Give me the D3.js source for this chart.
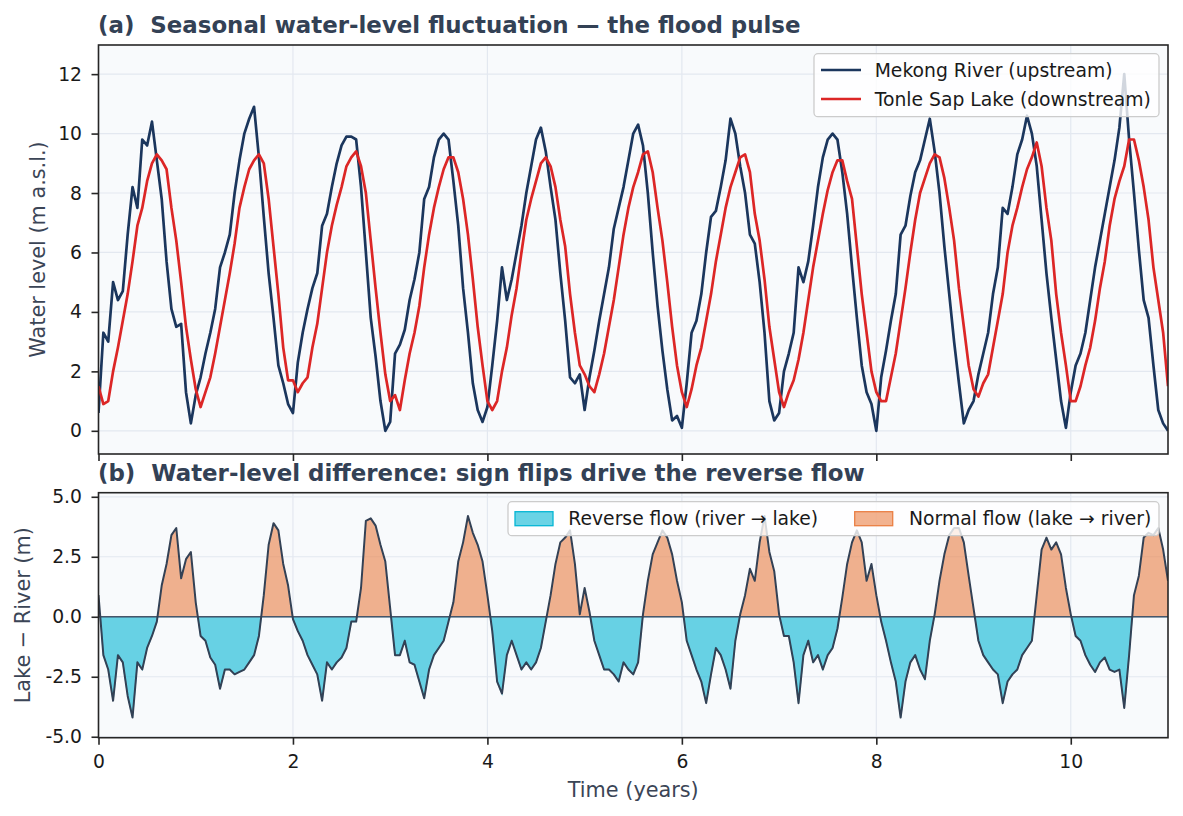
<!DOCTYPE html>
<html>
<head>
<meta charset="utf-8">
<script src="https://cdn.jsdelivr.net/npm/d3@7"></script>
<style>
  body { margin: 0; background: #ffffff; }
  svg { display: block; font-family: "DejaVu Sans", sans-serif; }
</style>
</head>
<body>
<svg id="chart" width="1183" height="816"></svg>
<script>
// sampled every 0.05 years, t = 0 .. 11 (one row per year)
const mekongRiver = [
  0.6, 3.3, 3.0, 5.0, 4.4, 4.7, 6.6, 8.2, 7.5, 9.8, 9.6, 10.4, 9.1, 7.8, 5.7, 4.1, 3.5, 3.6, 1.3, 0.25,
  1.2, 1.8, 2.6, 3.3, 4.1, 5.5, 6.0, 6.6, 8.0, 9.1, 10.0, 10.5, 10.9, 9.2, 7.2, 5.3, 3.8, 2.2, 1.6, 0.9,
  0.6, 2.3, 3.3, 4.1, 4.8, 5.3, 6.9, 7.3, 8.2, 9.0, 9.6, 9.9, 9.9, 9.8, 8.2, 6.0, 3.8, 2.5, 1.0, 0.0,
  0.3, 2.6, 2.9, 3.4, 4.4, 5.1, 6.0, 7.8, 8.2, 9.2, 9.8, 10.0, 9.8, 8.4, 6.9, 4.8, 3.3, 1.6, 0.7, 0.3,
  0.8, 2.2, 3.7, 5.5, 4.4, 5.1, 6.0, 6.9, 8.0, 8.9, 9.8, 10.2, 9.4, 8.2, 7.1, 5.3, 3.7, 1.8, 1.6, 1.9,
  0.7, 1.8, 2.7, 3.7, 4.6, 5.5, 6.8, 7.5, 8.2, 9.1, 10.0, 10.3, 9.6, 8.0, 6.0, 4.2, 2.7, 1.4, 0.35, 0.5,
  0.1, 1.6, 3.3, 3.7, 4.6, 6.0, 7.2, 7.4, 8.2, 9.1, 10.5, 10.0, 8.9, 8.0, 6.6, 6.3, 5.0, 3.3, 1.0, 0.35,
  0.6, 2.0, 2.6, 3.3, 5.5, 5.0, 5.7, 6.9, 8.2, 9.2, 9.8, 10.0, 9.8, 8.7, 7.3, 5.5, 3.8, 2.2, 1.3, 0.9,
  0.0, 1.8, 2.7, 3.7, 4.6, 6.6, 6.9, 7.9, 8.7, 9.1, 9.8, 10.5, 9.4, 8.0, 6.2, 4.6, 3.0, 1.6, 0.25, 0.7,
  1.0, 1.9, 2.6, 3.3, 4.6, 5.5, 7.5, 7.3, 8.2, 9.3, 9.8, 10.6, 10.0, 8.9, 7.1, 5.3, 3.8, 2.4, 1.0, 0.1,
  1.3, 2.2, 2.6, 3.3, 4.4, 5.5, 6.4, 7.3, 8.2, 9.1, 10.2, 12.0, 9.8, 8.0, 6.1, 4.4, 3.8, 2.2, 0.7, 0.25,
  0.0
];

const tonleSapLake = [
  1.5, 0.9, 1.0, 2.0, 2.8, 3.7, 4.6, 5.7, 6.9, 7.5, 8.4, 9.0, 9.3, 9.1, 8.8, 7.5, 6.4, 5.0, 3.5, 2.4,
  1.4, 0.8, 1.3, 1.8, 2.6, 3.5, 4.4, 5.3, 6.3, 7.5, 8.2, 8.8, 9.1, 9.3, 9.0, 7.8, 6.2, 4.6, 2.8, 1.7,
  1.7, 1.3, 1.6, 1.8, 2.8, 3.6, 4.8, 6.0, 6.9, 7.6, 8.2, 8.9, 9.2, 9.4, 8.9, 8.0, 6.4, 4.8, 3.3, 1.9,
  1.0, 1.2, 0.7, 1.7, 2.6, 3.3, 4.2, 5.5, 6.6, 7.5, 8.2, 8.8, 9.2, 9.2, 8.7, 7.8, 6.6, 5.1, 3.5, 2.2,
  1.0, 0.7, 1.0, 2.0, 2.8, 3.9, 4.8, 6.0, 7.1, 7.8, 8.4, 9.0, 9.2, 8.9, 8.2, 7.1, 6.2, 4.6, 3.3, 2.2,
  1.9, 1.5, 1.3, 1.9, 2.6, 3.5, 4.4, 5.5, 6.6, 7.5, 8.2, 8.7, 9.3, 9.4, 8.7, 7.5, 6.4, 5.0, 3.5, 2.2,
  1.3, 0.8, 1.4, 2.2, 2.8, 3.7, 4.6, 5.7, 6.6, 7.5, 8.2, 8.7, 9.2, 9.3, 8.7, 7.3, 6.4, 5.1, 3.5, 2.4,
  1.3, 0.8, 1.3, 1.7, 2.4, 3.3, 4.4, 5.5, 6.4, 7.3, 8.1, 8.7, 9.1, 9.1, 8.4, 7.8, 6.2, 4.6, 3.3, 2.0,
  1.3, 1.0, 1.0, 1.8, 2.6, 3.7, 4.8, 6.0, 7.1, 8.0, 8.5, 9.0, 9.3, 9.2, 8.5, 7.5, 6.4, 4.8, 3.5, 2.2,
  1.4, 1.15, 1.6, 1.9, 2.8, 3.7, 4.6, 6.0, 6.9, 7.5, 8.2, 8.8, 9.2, 9.7, 8.9, 7.5, 6.4, 4.6, 3.3, 2.2,
  1.0, 1.0, 1.5, 2.2, 2.8, 3.7, 4.8, 5.7, 6.9, 7.8, 8.4, 8.9, 9.8, 9.8, 9.1, 8.2, 7.1, 5.5, 4.4, 3.3,
  1.5
];

// lake minus river
const levelDiff = [
  0.9, -1.6, -2.2, -3.5, -1.6, -1.9, -3.3, -4.2, -1.9, -2.2, -1.3, -0.8, -0.2, 1.3, 2.2, 3.4, 3.7, 1.6, 2.4, 2.7,
  0.6, -0.8, -1.0, -1.7, -2.0, -3.0, -2.2, -2.2, -2.4, -2.3, -2.2, -1.9, -1.6, -0.8, 0.9, 3.0, 3.9, 3.6, 2.2, 1.3,
  -0.1, -0.6, -1.0, -1.6, -2.0, -2.4, -3.5, -1.9, -2.2, -1.9, -1.7, -1.3, -0.2, -0.2, 1.2, 4.0, 4.1, 3.8, 3.0, 2.3,
  0.35, -1.6, -1.6, -1.0, -1.9, -2.0, -2.7, -3.4, -2.2, -1.6, -1.3, -1.0, -0.2, 0.6, 2.3, 3.1, 4.2, 3.5, 3.0, 2.3,
  0.9, -0.6, -2.7, -3.2, -1.6, -1.0, -1.6, -2.2, -1.9, -2.2, -1.9, -1.3, -0.2, 0.9, 2.2, 3.1, 3.3, 3.6, 2.2, 0.1,
  1.2, 0.2, -1.0, -1.6, -2.2, -2.2, -2.4, -2.7, -1.9, -2.2, -2.4, -1.9, 0.1, 1.5, 2.6, 3.1, 3.6, 3.3, 2.6, 1.5,
  0.6, -1.0, -1.6, -2.2, -2.7, -3.6, -2.4, -1.3, -1.6, -2.2, -3.0, -1.0, 0.1, 0.9, 2.0, 1.5, 3.1, 4.2, 2.7, 1.9,
  0.1, -0.8, -0.8, -1.9, -3.6, -1.6, -1.0, -1.9, -1.6, -2.2, -1.6, -1.3, -0.5, 0.8, 2.2, 3.1, 3.6, 3.1, 1.5, 2.2,
  0.9, -0.2, -1.0, -1.9, -2.7, -4.2, -2.7, -1.9, -1.6, -2.2, -2.6, -1.0, 0.1, 1.5, 2.6, 3.4, 3.7, 3.7, 3.1, 1.7,
  0.35, -1.0, -1.6, -1.9, -2.2, -2.4, -3.6, -2.7, -2.4, -2.2, -1.6, -1.3, -1.0, 0.9, 2.8, 3.3, 2.8, 3.1, 2.6, 1.2,
  0.1, -0.8, -1.0, -1.6, -2.0, -2.3, -1.9, -1.7, -2.2, -2.3, -2.2, -3.8, -1.6, 0.9, 1.7, 3.3, 3.5, 3.4, 3.7, 2.8,
  1.5
];

const years = d3.range(mekongRiver.length).map(i => i * 0.05);

const xTicks = [0, 2, 4, 6, 8, 10];
const levelTicks = [0, 2, 4, 6, 8, 10, 12];
const diffTicks = [-5, -2.5, 0, 2.5, 5];

const levelSeries = [
  { name: 'Mekong River (upstream)', color: '#1b365d', values: mekongRiver },
  { name: 'Tonle Sap Lake (downstream)', color: '#dc2626', values: tonleSapLake }
];
const flowLabels = ['Reverse flow (river \u2192 lake)', 'Normal flow (lake \u2192 river)'];
const reverseColor = '#06b6d4';
const normalColor = '#ea7f44';

const svg = d3.select('#chart');
const left = 98.5, right = 1168;
const topA = 45, botA = 454;
const topB = 492.7, botB = 737.7;

const x = d3.scaleLinear().domain([0, 11]).range([left, right]);
const yA = d3.scaleLinear().domain([-0.78, 12.98]).range([botA, topA]);
const yB = d3.scaleLinear().domain([-5.04, 5.17]).range([botB, topB]);

const tickFont = '18.75px';
const labelColor = '#3b4556';
const spineColor = '#262626';

function panel(id, y0, y1, yScale, yTicks) {
  const g = svg.append('g');
  g.append('rect')
      .attr('x', left).attr('y', y0)
      .attr('width', right - left).attr('height', y1 - y0)
      .attr('fill', '#f8fafc');

  svg.append('clipPath').attr('id', id)
    .append('rect')
      .attr('x', left).attr('y', y0)
      .attr('width', right - left).attr('height', y1 - y0);

  const grid = g.append('g')
      .attr('stroke', '#e3e8f0')
      .attr('stroke-width', 1.2);
  grid.selectAll('.gx').data(xTicks).join('line')
      .attr('x1', d => x(d)).attr('x2', d => x(d))
      .attr('y1', y0).attr('y2', y1);
  grid.selectAll('.gy').data(yTicks).join('line')
      .attr('x1', left).attr('x2', right)
      .attr('y1', d => yScale(d)).attr('y2', d => yScale(d));
  return g;
}

function axes(y0, y1, yScale, yTicks, fmt, showXLabels) {
  const ax = svg.append('g')
      .attr('transform', `translate(0,${y1})`)
      .call(d3.axisBottom(x).tickValues(xTicks).tickSize(7).tickPadding(10)
        .tickFormat(showXLabels ? d3.format('d') : () => ''));
  const ay = svg.append('g')
      .attr('transform', `translate(${left},0)`)
      .call(d3.axisLeft(yScale).tickValues(yTicks).tickSize(7).tickPadding(9.5)
        .tickFormat(fmt));
  [ax, ay].forEach(a => {
    a.select('.domain').remove();
    a.selectAll('.tick line').attr('stroke', spineColor).attr('stroke-width', 1.6);
    a.selectAll('.tick text')
        .attr('fill', '#1a1a1a')
        .style('font-size', tickFont)
        .style('font-family', '"DejaVu Sans", sans-serif');
  });
  svg.append('rect')
      .attr('x', left).attr('y', y0)
      .attr('width', right - left).attr('height', y1 - y0)
      .attr('fill', 'none')
      .attr('stroke', spineColor)
      .attr('stroke-width', 1.6);
}

// ---- panel (a): water levels
const gA = panel('clipA', topA, botA, yA, levelTicks);
const line = d3.line()
    .x((d, i) => x(years[i]))
    .y(d => yA(d));
gA.append('g').attr('clip-path', 'url(#clipA)')
  .selectAll('path').data(levelSeries).join('path')
    .attr('fill', 'none')
    .attr('stroke', d => d.color)
    .attr('stroke-width', 2.7)
    .attr('stroke-linejoin', 'round')
    .attr('d', d => line(d.values));
axes(topA, botA, yA, levelTicks, d3.format('d'), false);

// ---- panel (b): difference
const gB = panel('clipB', topB, botB, yB, diffTicks);
const y0B = yB(0);
svg.append('clipPath').attr('id', 'clipPos')
  .append('rect').attr('x', left).attr('y', topB)
    .attr('width', right - left).attr('height', y0B - topB);
svg.append('clipPath').attr('id', 'clipNeg')
  .append('rect').attr('x', left).attr('y', y0B)
    .attr('width', right - left).attr('height', botB - y0B);

const area = d3.area()
    .x((d, i) => x(years[i]))
    .y0(y0B)
    .y1(d => yB(d));
gB.append('path')
    .attr('clip-path', 'url(#clipNeg)')
    .attr('fill', reverseColor).attr('fill-opacity', 0.6)
    .attr('stroke', reverseColor).attr('stroke-opacity', 0.6).attr('stroke-width', 1.2)
    .attr('d', area(levelDiff));
gB.append('path')
    .attr('clip-path', 'url(#clipPos)')
    .attr('fill', normalColor).attr('fill-opacity', 0.6)
    .attr('d', area(levelDiff));
gB.append('line')
    .attr('x1', left).attr('x2', right)
    .attr('y1', y0B).attr('y2', y0B)
    .attr('stroke', '#475569').attr('stroke-width', 1.3);
gB.append('path')
    .attr('clip-path', 'url(#clipB)')
    .attr('fill', 'none')
    .attr('stroke', '#334155')
    .attr('stroke-width', 2.0)
    .attr('stroke-linejoin', 'round')
    .attr('d', d3.line().x((d, i) => x(years[i])).y(d => yB(d))(levelDiff));
axes(topB, botB, yB, diffTicks, d => d3.format('.1f')(d).replace('\u2212', '-'), true);

// ---- titles and labels
svg.append('text')
    .attr('x', 98).attr('y', 33)
    .style('white-space', 'pre')
    .attr('font-size', '22.9px').attr('font-weight', 'bold').attr('fill', '#334155')
    .text('(a)  Seasonal water-level fluctuation \u2014 the flood pulse');
svg.append('text')
    .attr('x', 98).attr('y', 481)
    .style('white-space', 'pre')
    .attr('font-size', '22.9px').attr('font-weight', 'bold').attr('fill', '#334155')
    .text('(b)  Water-level difference: sign flips drive the reverse flow');

svg.append('text')
    .attr('transform', `translate(38,${(topA + botA) / 2}) rotate(-90)`)
    .attr('text-anchor', 'middle').attr('dy', '0.35em')
    .attr('font-size', '20.8px').attr('fill', labelColor)
    .text('Water level (m a.s.l.)');
svg.append('text')
    .attr('transform', `translate(23,${(topB + botB) / 2}) rotate(-90)`)
    .attr('text-anchor', 'middle').attr('dy', '0.35em')
    .attr('font-size', '20.8px').attr('fill', labelColor)
    .text('Lake \u2212 River (m)');
svg.append('text')
    .attr('x', (left + right) / 2).attr('y', 797)
    .attr('text-anchor', 'middle')
    .attr('font-size', '20.8px').attr('fill', labelColor)
    .text('Time (years)');

// ---- legend (a)
const legA = svg.append('g');
legA.append('rect')
    .attr('x', 814).attr('y', 53.7).attr('width', 345).attr('height', 63).attr('rx', 4)
    .attr('fill', '#ffffff').attr('fill-opacity', 0.8)
    .attr('stroke', '#cccccc').attr('stroke-width', 1.3);
const rowsA = legA.selectAll('g.row').data(levelSeries).join('g')
    .attr('transform', (d, i) => `translate(0,${70 + i * 29})`);
rowsA.append('line')
    .attr('x1', 821).attr('x2', 861)
    .attr('stroke', d => d.color).attr('stroke-width', 2.7);
rowsA.append('text')
    .attr('x', 874.7).attr('dy', '0.35em')
    .attr('font-size', tickFont).attr('fill', '#1a1a1a')
    .text(d => d.name);

// ---- legend (b)
const legB = svg.append('g');
legB.append('rect')
    .attr('x', 508).attr('y', 501.7).attr('width', 651).attr('height', 34).attr('rx', 4)
    .attr('fill', '#ffffff').attr('fill-opacity', 0.8)
    .attr('stroke', '#cccccc').attr('stroke-width', 1.3);
const flowItems = [
  { label: flowLabels[0], color: reverseColor, px: 515, tx: 568.3 },
  { label: flowLabels[1], color: normalColor, px: 854.7, tx: 909 }
];
const itemsB = legB.selectAll('g.item').data(flowItems).join('g');
itemsB.append('rect')
    .attr('x', d => d.px).attr('y', 511.7).attr('width', 38).attr('height', 14)
    .attr('fill', d => d.color).attr('fill-opacity', 0.6)
    .attr('stroke', d => d.color).attr('stroke-width', 1.3);
itemsB.append('text')
    .attr('x', d => d.tx).attr('y', 518.7).attr('dy', '0.35em')
    .attr('font-size', tickFont).attr('fill', '#1a1a1a')
    .text(d => d.label);
</script>
</body>
</html>
